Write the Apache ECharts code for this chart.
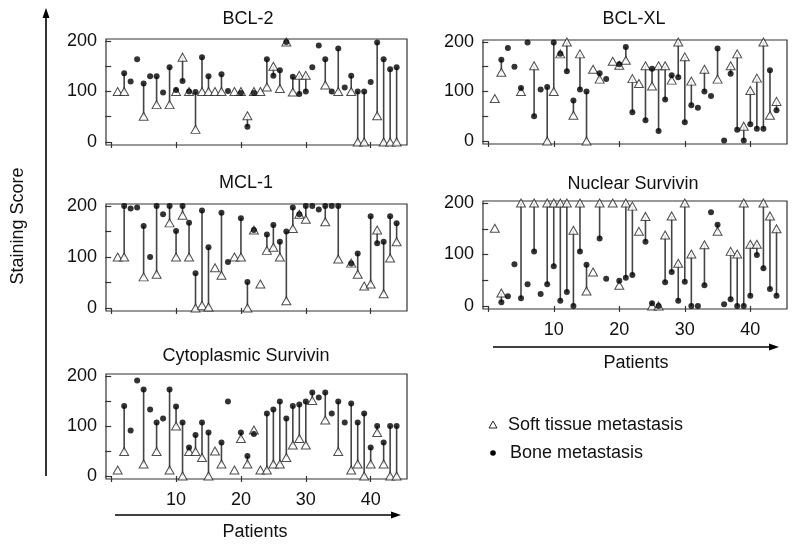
<!DOCTYPE html>
<html><head><meta charset="utf-8">
<script src="https://cdn.jsdelivr.net/npm/echarts@6/dist/echarts.min.js"></script>
<style>html,body{margin:0;padding:0;background:#fff}#c{width:800px;height:550px}</style>
</head><body><div id="c"></div>
<script>
const patients = [1,2,3,4,5,6,7,8,9,10,11,12,13,14,15,16,17,18,19,20,21,22,23,24,25,26,27,28,29,30,31,32,33,34,35,36,37,38,39,40,41,42,43,44];
const panelTitles = ['BCL-2','BCL-XL','MCL-1','Nuclear Survivin','Cytoplasmic Survivin'];
const xTicks = [0,10,20,30,40];
const xTickLabels = [10,20,30,40];
const yTicks = [0,50,100,150,200];
const yTickLabels = [0,100,200];

const bcl2Soft = [100,100,null,null,51,null,74,null,74,100,168,100,25,100,100,100,100,null,100,100,52,100,100,109,150,106,198,99,132,132,null,null,113,null,100,null,100,0,0,null,52,0,0,0];
const bcl2Bone = [null,136,120,164,116,130,130,98,148,103,121,100,99,168,130,null,134,101,null,97,30,97,null,164,131,142,198,129,95,100,148,191,164,100,185,108,131,100,100,119,197,164,144,148];
const bclxlSoft = [86,139,null,null,100,null,152,null,0,100,176,200,52,176,0,145,125,null,161,153,163,126,116,152,111,152,152,123,200,170,121,null,145,null,125,null,152,176,30,102,127,200,52,80];
const bclxlBone = [null,164,188,150,107,199,50,104,109,199,176,141,82,104,100,null,137,125,null,155,190,58,null,42,146,20,84,133,129,38,72,67,100,91,187,1,136,23,1,34,25,25,143,62];
const mcl1Soft = [100,100,null,null,61,null,66,null,167,100,182,100,0,5,2,79,64,null,100,100,0,153,47,113,119,100,14,156,184,174,null,null,169,null,96,null,88,66,43,47,153,28,98,130];
const mcl1Bone = [null,200,195,197,161,100,200,184,200,151,200,167,68,191,119,null,187,90,null,176,51,153,null,144,163,130,150,197,184,200,200,193,200,200,200,null,87,107,null,180,127,130,180,166];
const nucSoft = [151,25,null,null,200,null,200,null,200,200,200,200,147,200,29,66,200,null,200,40,200,194,145,174,0,0,138,175,83,200,101,null,119,null,145,null,106,101,200,120,120,200,175,150];
const nucBone = [null,7,19,81,15,42,106,23,42,77,10,27,0,106,80,null,131,53,null,49,55,60,null,125,5,0,46,66,10,47,0,0,40,182,158,3,13,0,0,20,99,73,33,20];
const cytoSoft = [12,49,null,null,24,null,49,null,12,100,0,49,49,37,0,50,24,null,12,75,24,92,12,12,24,24,37,62,75,62,151,null,112,null,49,null,12,24,0,24,87,24,0,0];
const cytoBone = [null,140,91,191,173,133,107,115,173,139,107,57,82,107,87,null,67,149,null,87,40,84,null,125,133,149,115,140,143,149,167,157,167,125,149,107,145,107,125,57,100,67,100,100];

const softAll = [bcl2Soft, bclxlSoft, mcl1Soft, nucSoft, cytoSoft];
const boneAll = [bcl2Bone, bclxlBone, mcl1Bone, nucBone, cytoBone];

const FONT = 'Liberation Sans, Arial, Helvetica, sans-serif';
const grids = [
  {left:106, top:39, width:301, height:106},
  {left:483, top:40, width:304, height:104},
  {left:106, top:204, width:301, height:107},
  {left:483, top:201, width:304, height:108},
  {left:106, top:374, width:301, height:105}
];
const showXLabels = [false,false,false,true,true];

const option = {
  animation:false,
  backgroundColor:'#fff',
  grid: grids.map(g => Object.assign({show:true, borderColor:'#333', borderWidth:1.2, backgroundColor:'transparent'}, g)),
  xAxis: grids.map((g,i) => ({
    type:'value', gridIndex:i, min:-0.8, max:45.6, offset:2,
    axisLine:{show:false}, splitLine:{show:false},
    axisTick:{show:true, customValues:xTicks, length:6, lineStyle:{color:'#333', width:1.2}},
    axisLabel:{show:showXLabels[i], customValues:xTickLabels, fontSize:18, color:'#111', margin:10, fontFamily:FONT}
  })),
  yAxis: grids.map((g,i) => ({
    type:'value', gridIndex:i, min:-6, max:204,
    axisLine:{show:false}, splitLine:{show:false},
    axisTick:{show:true, customValues:yTicks, length:6, lineStyle:{color:'#333', width:1.2}},
    axisLabel:{customValues:yTickLabels, fontSize:18, color:'#111', margin:9, fontFamily:FONT}
  })),
  series: [],
  graphic: []
};

for (let i = 0; i < 5; i++) {
  const soft = softAll[i], bone = boneAll[i];
  const pairs = [], tri = [], dot = [];
  patients.forEach((p, k) => {
    if (soft[k] != null && bone[k] != null) pairs.push([p, soft[k], bone[k]]);
    if (soft[k] != null) tri.push([p, soft[k]]);
    if (bone[k] != null) dot.push([p, bone[k]]);
  });
  option.series.push({
    type:'custom', xAxisIndex:i, yAxisIndex:i, z:1, data:pairs,
    encode:{x:0, y:[1,2]},
    renderItem:(params, api) => {
      const a = api.coord([api.value(0), api.value(1)]);
      const b = api.coord([api.value(0), api.value(2)]);
      return {type:'line', shape:{x1:a[0], y1:a[1], x2:b[0], y2:b[1]}, style:{stroke:'#444', lineWidth:1.6}};
    }
  });
  option.series.push({
    type:'scatter', name:'Soft tissue metastasis', xAxisIndex:i, yAxisIndex:i, z:2, data:tri,
    symbol:'triangle', symbolSize:[9,8],
    itemStyle:{color:'#fff', borderColor:'#222', borderWidth:1}
  });
  option.series.push({
    type:'scatter', name:'Bone metastasis', xAxisIndex:i, yAxisIndex:i, z:3, data:dot,
    symbol:'circle', symbolSize:6, itemStyle:{color:'#000'}
  });
}

const titlePos = [[248,19],[634,19],[246,183],[633,184],[246,356]];
titlePos.forEach((p, i) => {
  option.graphic.push({type:'text', x:p[0], y:p[1], style:{text:panelTitles[i], fontSize:18, fill:'#111', font:'18px ' + FONT, align:'center', verticalAlign:'middle'}});
});

// Staining score label and arrow
option.graphic.push({type:'text', x:18, y:226, rotation:Math.PI/2, style:{text:'Staining Score', font:'18px ' + FONT, fill:'#111', align:'center', verticalAlign:'middle'}});
option.graphic.push({type:'line', shape:{x1:46, y1:476, x2:46, y2:16}, style:{stroke:'#000', lineWidth:1.6}});
option.graphic.push({type:'polygon', shape:{points:[[46,8],[42.5,18],[49.5,18]]}, style:{fill:'#000'}});

// Patients arrows
option.graphic.push({type:'line', shape:{x1:493, y1:347, x2:770, y2:347}, style:{stroke:'#000', lineWidth:1.6}});
option.graphic.push({type:'polygon', shape:{points:[[779,347],[769,343.5],[769,350.5]]}, style:{fill:'#000'}});
option.graphic.push({type:'text', x:636, y:363, style:{text:'Patients', font:'18px ' + FONT, fill:'#111', align:'center', verticalAlign:'middle'}});
option.graphic.push({type:'line', shape:{x1:115, y1:515, x2:392, y2:515}, style:{stroke:'#000', lineWidth:1.6}});
option.graphic.push({type:'polygon', shape:{points:[[401,515],[391,511.5],[391,518.5]]}, style:{fill:'#000'}});
option.graphic.push({type:'text', x:255, y:532, style:{text:'Patients', font:'18px ' + FONT, fill:'#111', align:'center', verticalAlign:'middle'}});

// Legend
option.graphic.push({type:'polygon', shape:{points:[[493,421],[489,428],[497,428]]}, style:{fill:'#fff', stroke:'#222', lineWidth:1}});
option.graphic.push({type:'text', x:508, y:425, style:{text:'Soft tissue metastasis', font:'18px ' + FONT, fill:'#111', align:'left', verticalAlign:'middle'}});
option.graphic.push({type:'circle', shape:{cx:493, cy:453, r:2.8}, style:{fill:'#000'}});
option.graphic.push({type:'text', x:510, y:453, style:{text:'Bone metastasis', font:'18px ' + FONT, fill:'#111', align:'left', verticalAlign:'middle'}});

const chart = echarts.init(document.getElementById('c'), null, {renderer:'canvas'});
chart.setOption(option);
</script>
</body></html>
